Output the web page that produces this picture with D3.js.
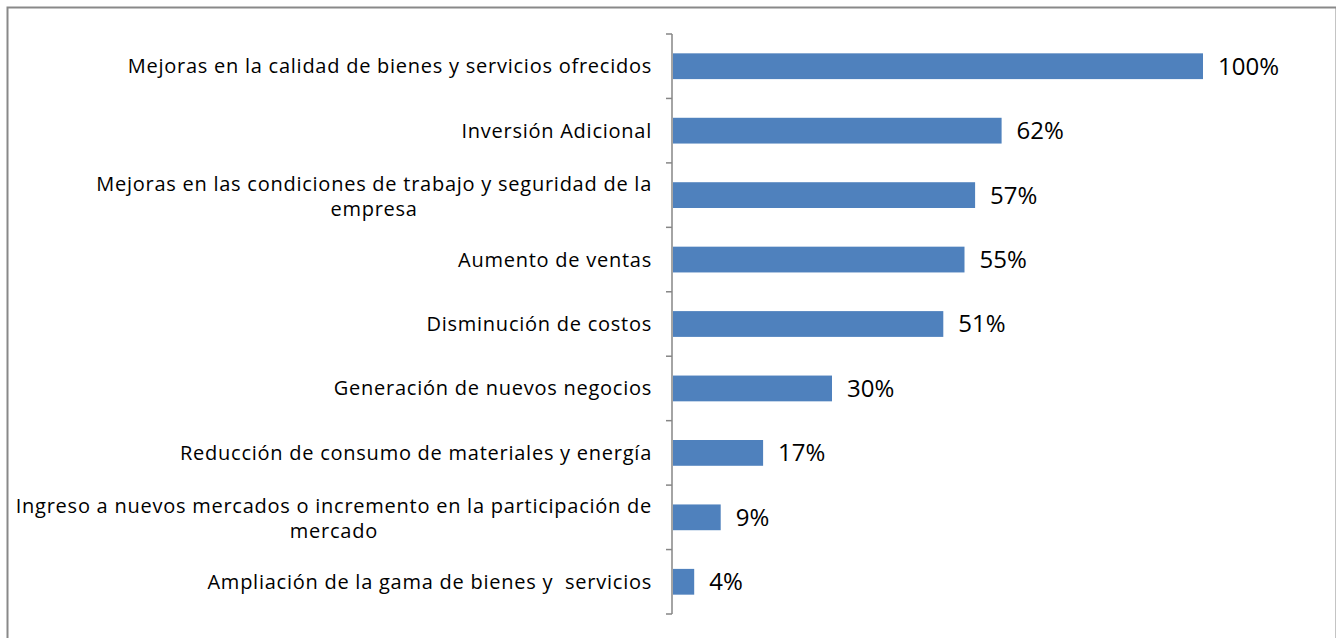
<!DOCTYPE html>
<html>
<head>
<meta charset="utf-8">
<script src="https://cdn.jsdelivr.net/npm/d3@7"></script>
<style>
  body { margin: 0; background: #fff; }
  text { font-family: "Open Sans", "DejaVu Sans", sans-serif; fill: #000; white-space: pre; }
  .cat { font-size: 20px; letter-spacing: 0.75px; }
</style>
</head>
<body>
<div id="chart"></div>
<script>
// Categories (top to bottom), line breaks as in the original labels
const categories = [
  "Mejoras en la calidad de bienes y servicios ofrecidos",
  "Inversión Adicional",
  "Mejoras en las condiciones de trabajo y seguridad de la\nempresa",
  "Aumento de ventas",
  "Disminución de costos",
  "Generación de nuevos negocios",
  "Reducción de consumo de materiales y energía",
  "Ingreso a nuevos mercados o incremento en la participación de\nmercado",
  "Ampliación de la gama de bienes y  servicios"
];
const values = [100, 62, 57, 55, 51, 30, 17, 9, 4];

const W = 1336, H = 638;
const margin = { top: 34, right: 134, bottom: 24, left: 672 };
const width = W - margin.left - margin.right;
const height = H - margin.top - margin.bottom;

const svg = d3.select("#chart")
  .append("svg")
  .attr("width", W)
  .attr("height", H);

// Outer frame
svg.append("rect")
  .attr("x", 7.5).attr("y", 7.5)
  .attr("width", W - 7).attr("height", H)
  .attr("fill", "none")
  .attr("stroke", "#898989")
  .attr("stroke-width", 2);

const g = svg.append("g")
  .attr("transform", `translate(${margin.left},${margin.top})`);

const x = d3.scaleLinear().domain([0, 100]).range([0, 530]);
const y = d3.scaleBand().domain(categories).range([0, height]).paddingInner(0.6).paddingOuter(0.3);

// Bars
g.selectAll(".bar")
  .data(values)
  .enter()
  .append("rect")
  .attr("class", "bar")
  .attr("x", 1)
  .attr("y", (d, i) => y(categories[i]))
  .attr("width", d => x(d))
  .attr("height", y.bandwidth())
  .attr("fill", "#4f81bd");

// Value labels
g.selectAll(".val")
  .data(values)
  .enter()
  .append("text")
  .attr("class", "val")
  .attr("x", d => x(d) + 16)
  .attr("y", (d, i) => y(categories[i]) + y.bandwidth() / 2)
  .attr("dy", "0.35em")
  .style("font-size", "24px")
  .text(d => d + "%");

// Axis line and ticks at category boundaries
const axis = g.append("g").attr("class", "axis");
axis.append("line")
  .attr("x1", 0).attr("x2", 0)
  .attr("y1", 0).attr("y2", height)
  .attr("stroke", "#868686").attr("stroke-width", 1.5);
const step = y.step();
d3.range(categories.length + 1).forEach(i => {
  axis.append("line")
    .attr("x1", -6).attr("x2", 0)
    .attr("y1", i * step).attr("y2", i * step)
    .attr("stroke", "#868686").attr("stroke-width", 1.5);
});

// Category labels (right aligned, wrapped lines centred)
categories.forEach((c, i) => {
  const lines = c.split("\n");
  const cy = y(c) + y.bandwidth() / 2;
  const lh = 25;
  const t = g.append("text")
    .attr("class", "cat")
    .attr("dy", "0.35em");
  if (lines.length === 1) {
    t.attr("x", -20).attr("y", cy).attr("text-anchor", "end").text(c);
  } else {
    // measure first line to centre the block on it
    t.attr("x", -20).attr("y", cy - lh / 2 + 1).attr("text-anchor", "end").text(lines[0]);
    const w = t.node().getComputedTextLength();
    g.append("text")
      .attr("class", "cat")
      .attr("dy", "0.35em")
      .attr("x", -20 - w / 2)
      .attr("y", cy + lh / 2 + 1)
      .attr("text-anchor", "middle")
      .text(lines[1]);
  }
});
</script>
</body>
</html>
